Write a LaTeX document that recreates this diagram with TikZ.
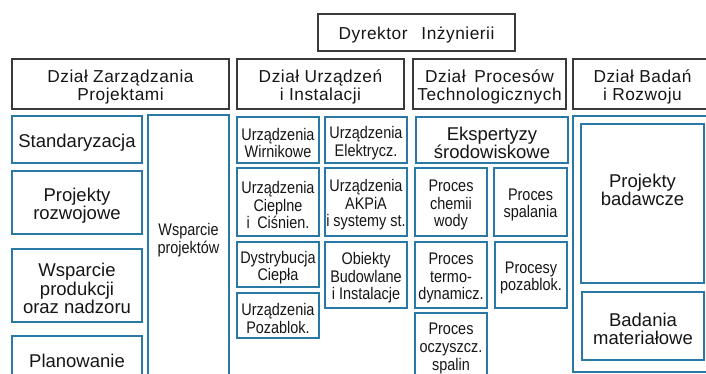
\documentclass[tikz,border=0pt]{standalone}
\usepackage{fontspec}
\setmainfont{Liberation Sans}
\newfontfamily\deptfont[LetterSpace=3]{Liberation Sans}
\newfontfamily\condfont[FakeStretch=0.86]{Liberation Sans}
\definecolor{framegray}{HTML}{3A3A3A}
\definecolor{unitblue}{HTML}{2A78A6}
\definecolor{inkblack}{HTML}{161616}
\tikzset{
  % a box given by its left, top, right and bottom edges
  cell/.style n args={4}{at={({(#1+#3)/2},{(#2+#4)/2})},
    minimum width={(#3-#1)*1pt}, minimum height={(#4-#2)*1pt}},
  base/.style={inner sep=0pt, align=center, text=inkblack},
  deptbox/.style={base, draw=framegray, line width=1.4pt},
  depttext/.style={base, font=\deptfont\fontsize{17.3}{18.3}\selectfont},
  widebox/.style={base, draw=unitblue, line width=1.6pt},
  widetext/.style={base, font=\fontsize{18.5}{18.4}\selectfont},
  narrowbox/.style={base, draw=unitblue, line width=1.6pt},
  narrowtext/.style={base, font=\condfont\fontsize{16.8}{17.6}\selectfont}
}
% #1 kind (dept, wide, narrow), #2 name, #3-#6 left, top, right, bottom, #7 text
\newcommand\orgbox[7]{%
  \node[#1box, cell={#3}{#4}{#5}{#6}] (#2) {};
  \node[#1text, yshift=-3pt] (#2-t) at (#2.center) {#7};}
\begin{document}
\begin{tikzpicture}[x=1pt,y=-1pt]
\clip (0,0) rectangle (706,373);
\fill[white] (0,0) rectangle (706,373);

% director and departments
\orgbox{dept}{dir}{318}{14}{515}{51}{Dyrektor\hspace{0.8em}Inżynierii}
\orgbox{dept}{dzp}{12}{59}{229}{109}{Dział Zarządzania\\Projektami}
\orgbox{dept}{dui}{237}{59}{404}{109}{Dział Urządzeń\\i Instalacji}
\orgbox{dept}{dpt}{413}{59}{566}{109}{Dział\hspace{0.5em}Procesów\\Technologicznych}
\orgbox{dept}{dbr}{573}{59}{712}{109}{Dział Badań\\i Rozwoju}

% project management units
\orgbox{wide}{std}{12}{116}{142}{163}{Standaryzacja}
\orgbox{wide}{prz}{12}{171}{142}{234}{Projekty\\rozwojowe}
\orgbox{wide}{wsp}{12}{249}{142}{322}{Wsparcie\\produkcji\\oraz nadzoru}
\orgbox{wide}{pla}{12}{336}{142}{379}{Planowanie}
\node[narrowbox, cell={148}{115}{229}{390}] (wpr) {};
\node[narrowtext] (wpr-t) at (188.5,240) {Wsparcie\\projektów};

% equipment and installation units
\orgbox{narrow}{uw}{237}{117}{319}{163}{Urządzenia\\Wirnikowe}
\orgbox{narrow}{ue}{325}{117}{407}{163}{Urządzenia\\Elektrycz.}
\orgbox{narrow}{uc}{237}{168}{319}{236}{Urządzenia\\Cieplne\\i\hspace{0.45em}Ciśnien.}
\orgbox{narrow}{ua}{325}{168}{407}{236}{Urządzenia\\AKPiA\\i systemy st.}
\orgbox{narrow}{dc}{237}{242}{319}{287}{Dystrybucja\\Ciepła}
\orgbox{narrow}{ob}{325}{242}{407}{308}{Obiekty\\Budowlane\\i Instalacje}
\orgbox{narrow}{up}{237}{293}{319}{338}{Urządzenia\\Pozablok.}

% process units
\orgbox{wide}{ek}{416}{117}{568}{163}{Ekspertyzy\\środowiskowe}
\orgbox{narrow}{pc}{415}{168}{487}{236}{Proces\\chemii\\wody}
\orgbox{narrow}{ps}{494}{168}{567}{236}{Proces\\spalania}
\orgbox{narrow}{pt}{415}{242}{487}{308}{Proces\\termo-\\dynamicz.}
\orgbox{narrow}{pp}{495}{242}{567}{308}{Procesy\\pozablok.}
\orgbox{narrow}{po}{415}{313}{487}{378}{Proces\\oczyszcz.\\spalin}

% research and development units
\node[widebox, cell={573}{116}{712}{372}] (rd) {};
\node[widebox, cell={581}{124}{704}{283}] (pb) {};
\node[widetext] (pb-t) at (642.5,190) {Projekty\\badawcze};
\orgbox{wide}{bm}{582}{292}{704}{360}{Badania\\materiałowe}
\end{tikzpicture}
\end{document}
